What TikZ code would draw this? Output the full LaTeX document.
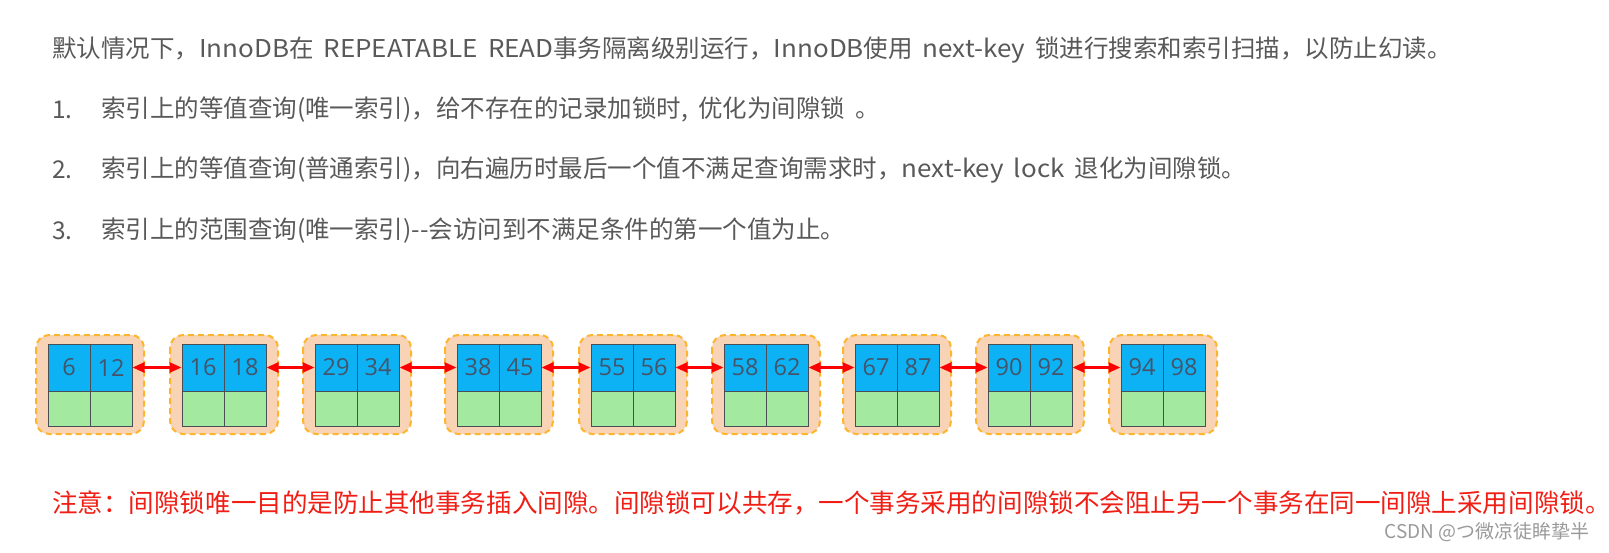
\documentclass[tikz,border=0pt]{standalone}
\usepackage{fontspec}
\setmainfont{Noto Sans CJK SC}
\newfontfamily\latwide[FakeStretch=1.06]{Noto Sans CJK SC}
\newfontfamily\numfont{Open Sans}
\usetikzlibrary{arrows.meta}
\definecolor{txtgray}{HTML}{595959}
\definecolor{notered}{HTML}{F01E14}
\definecolor{peach}{HTML}{F9D3B6}
\definecolor{dashor}{HTML}{FDB52B}
\definecolor{keyblue}{HTML}{0DB2F5}
\definecolor{rowgreen}{HTML}{A4E9A0}
\definecolor{cellline}{HTML}{4A4F55}
\definecolor{numcol}{HTML}{44546A}
\definecolor{wmgray}{HTML}{9A9A9A}
\newcommand\widespaces{\spaceskip=10pt plus 0pt minus 0pt\relax}
\newcommand\lt[1]{{\latwide #1}}
\tikzset{
  body/.style={font=\fontsize{24.5}{30}\selectfont, execute at begin node=\widespaces, text=txtgray, anchor=west, inner sep=0pt},
  note/.style={font=\fontsize{25.55}{30}\selectfont, text=notered, anchor=west, inner sep=0pt},
  recbox/.style={draw=dashor, fill=peach, line width=2pt, dash pattern=on 6pt off 4pt, rounded corners=13pt},
  keycell/.style={draw=cellline, fill=keyblue, line width=1pt, minimum width=42pt, minimum height=47pt, inner sep=0pt, outer sep=0pt, anchor=north west, font=\numfont\fontsize{23.5}{26}\selectfont, text=numcol},
  datacell/.style={draw=cellline, fill=rowgreen, line width=1pt, minimum width=42pt, minimum height=35pt, inner sep=0pt, outer sep=0pt, anchor=north west},
  link/.style={draw=red, line width=2.5pt, {Triangle[length=12pt,width=10pt]}-{Triangle[length=12pt,width=10pt]}, shorten <=0.5pt, shorten >=0.5pt}
}
\begin{document}
\begin{tikzpicture}[x=1pt,y=-1pt]
\useasboundingbox[fill=white] (0,0) rectangle (1609,553);
% text
\node[body] (l0) at (52,50) {默认情况下，\lt{InnoDB}在 \lt{REPEATABLE READ}事务隔离级别运行，\lt{InnoDB}使用 \lt{next-key} 锁进行搜索和索引扫描，以防止幻读。};
\node[body] (n1) at (52,110) {1.};
\node[body] (t1) at (101,110) {索引上的等值查询(唯一索引)，给不存在的记录加锁时, 优化为间隙锁 。};
\node[body] (n2) at (52,170) {2.};
\node[body] (t2) at (101,170) {索引上的等值查询(普通索引)，向右遍历时最后一个值不满足查询需求时，\lt{next-key lock} 退化为间隙锁。};
\node[body] (n3) at (52,231) {3.};
\node[body] (t3) at (101,231) {索引上的范围查询(唯一索引)-{}-会访问到不满足条件的第一个值为止。};
% records
\foreach \x/\a/\b/\i in {48/6/12/1, 182/16/18/2, 315/29/34/3, 457/38/45/4, 591/55/56/5, 724/58/62/6, 855/67/87/7, 988/90/92/8, 1121/94/98/9} {
  \path[recbox] (\x-12,335) rectangle (\x+96,434);
  \node[keycell] (r\i a) at (\x,344) {\a};
  \node[keycell] (r\i b) at (\x+42,344) {\b};
  \node[datacell] (r\i c) at (\x,391) {};
  \node[datacell] (r\i d) at (\x+42,391) {};
}
\foreach \i/\j in {1/2,2/3,3/4,4/5,5/6,6/7,7/8,8/9} {
  \draw[link] (r\i b.east) -- (r\j a.west);
}
% note
\node[note] (nt) at (52,503) {注意：间隙锁唯一目的是防止其他事务插入间隙。间隙锁可以共存，一个事务采用的间隙锁不会阻止另一个事务在同一间隙上采用间隙锁。};
\node[font=\fontsize{19}{22}\selectfont, text=wmgray, anchor=east, inner sep=0pt] (wm) at (1590,532) {CSDN @つ微凉徒眸挚半};
\end{tikzpicture}
\end{document}
